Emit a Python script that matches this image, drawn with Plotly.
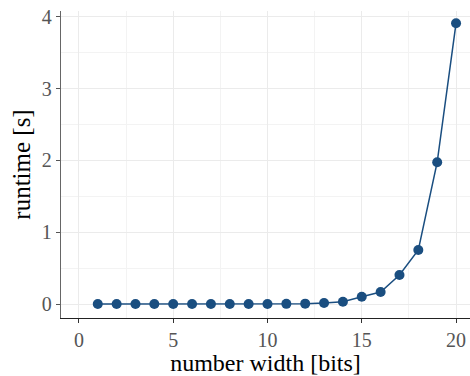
import plotly.graph_objects as go

bits = list(range(1, 21))
runtime = [0.0, 0.0, 0.0, 0.0, 0.0, 0.0, 0.0, 0.0, 0.0, 0.001, 0.002, 0.005,
           0.014, 0.032, 0.10, 0.167, 0.404, 0.753, 1.975, 3.91]

x_ticks = [0, 5, 10, 15, 20]
y_ticks = [0, 1, 2, 3, 4]

color = "#1a4e80"
font = "Liberation Serif"

fig = go.Figure(go.Scatter(
    x=bits, y=runtime, mode="lines+markers",
    line=dict(color=color, width=1.5),
    marker=dict(color=color, size=10),
))

axis_common = dict(
    showgrid=True, gridcolor="#ebebeb", gridwidth=1,
    zeroline=False, showline=True, linewidth=1.3,
    ticks="outside", ticklen=4, tickwidth=1,
    ticklabeloverflow="allow",
    tickfont=dict(family=font, size=20, color="#555555"),
)

fig.update_layout(
    width=470, height=376,
    margin=dict(l=61, r=0, t=11, b=58, autoexpand=False),
    paper_bgcolor="white", plot_bgcolor="white",
    showlegend=False,
    font=dict(family=font),
    xaxis=dict(range=[-0.95, 20.74], tickvals=x_ticks,
               minor=dict(dtick=2.5, tick0=0, showgrid=True, gridcolor="#f3f3f3", ticks=""),
               linecolor="#222222", tickcolor="#333333",
               title=dict(text="number width [bits]", font=dict(family=font, size=24, color="black"), standoff=3),
               **axis_common),
    yaxis=dict(range=[-0.195, 4.08], tickvals=y_ticks,
               minor=dict(dtick=0.5, tick0=0, showgrid=True, gridcolor="#f3f3f3", ticks=""),
               linecolor="#666666", tickcolor="#555555",
               title=dict(text="runtime [s]", font=dict(family=font, size=25, color="black"), standoff=4),
               **axis_common),
)

fig.write_html(
    "out.html",
    config={"displayModeBar": False},
    post_script="document.body.style.margin='0';document.body.style.overflow='hidden';",
)
